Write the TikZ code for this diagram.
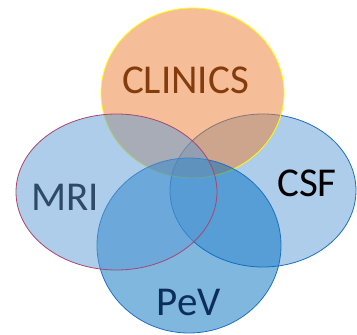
\documentclass[tikz,border=0pt]{standalone}
\usepackage{fontspec}
\setmainfont{Carlito}
\definecolor{vblue}{HTML}{5B9BD5}
\definecolor{vdark}{HTML}{0070C0}
\definecolor{vorange}{HTML}{ED7D31}
\definecolor{edgeblue}{HTML}{1F6FC0}
\definecolor{edgemri}{HTML}{A8466E}
\definecolor{edgeyel}{HTML}{FFFF00}
\definecolor{txtbrown}{HTML}{843C0C}
\definecolor{txtmri}{HTML}{2E4A68}
\definecolor{txtpev}{HTML}{0D2E5A}
\begin{document}
\begin{tikzpicture}[x=1pt,y=-1pt,
  setarea/.style={fill opacity=0.5, line width=0.8pt},
  lbl/.style={font=\fontsize{41}{41}\selectfont, inner sep=0pt, anchor=base}]
\useasboundingbox (0,0) rectangle (357,335);
% CSF
\draw[setarea, fill=vblue, draw=edgeblue] (263,190.5) ellipse [x radius=93, y radius=76.5];
% CLINICS
\draw[setarea, fill=vorange, draw=edgeyel] (192.5,93) ellipse [x radius=91.5, y radius=85];
% PeV
\draw[setarea, fill=vdark, draw=edgeblue] (189,245.5) ellipse [x radius=92, y radius=87.5];
% MRI
\draw[setarea, fill=vblue, draw=edgemri] (116.5,192) ellipse [x radius=100.5, y radius=78];
% labels
\node[lbl, text=txtbrown] (clinics) at (185.5,93) {CLINICS};
\node[lbl, text=txtmri] (mri) at (65,210) {MRI};
\node[lbl, text=black] (csf) at (307,196) {CSF};
\node[lbl, text=txtpev] (pev) at (189,315) {PeV};
\end{tikzpicture}
\end{document}
